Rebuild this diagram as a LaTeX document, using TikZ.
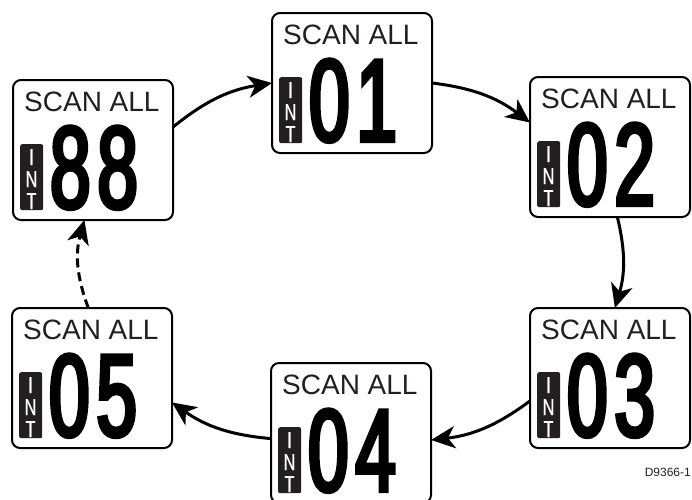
\documentclass[tikz,border=0pt]{standalone}
\usepackage{fontspec}
\setmainfont{Liberation Sans}
\newfontfamily\digitfont[FakeStretch=0.62,FakeBold=3.5]{Liberation Sans}
\newfontfamily\intfont[FakeStretch=0.72,FakeBold=0.5]{Liberation Sans}
\usetikzlibrary{arrows.meta,calc}
\definecolor{ink}{HTML}{231F20}
\tikzset{
 myhead/.tip={Stealth[length=24pt,width=22pt,inset=7pt]},
 screen/.style={draw=black, line width=2pt, rounded corners=8pt, minimum width=160pt, minimum height=140pt, anchor=north west, inner sep=0pt, outer sep=0pt, fill=white},
 scantext/.style={anchor=base west, inner sep=0pt, text=ink, font=\fontsize{28}{28}\selectfont},
 intbox/.style={fill=ink, rounded corners=2pt, minimum width=23pt, minimum height=66pt, anchor=north west, inner sep=0pt},
 intletter/.style={anchor=base, inner sep=0pt, text=white, font=\intfont\fontsize{23}{23}\selectfont},
 digits/.style={anchor=base, inner sep=0pt, text=black, font=\digitfont\fontsize{117}{117}\selectfont},
 arr/.style={line width=3pt, arrows={-myhead}},
}
\newcommand\lcdscreen[5]{%
 \node[screen] (#1) at (#2,#3) {};
 \node[scantext] (#1-t) at ([shift={(11,31)}]#1.north west) {SCAN ALL};
 \node[intbox] (#1-i) at ([shift={(7,64)}]#1.north west) {};
 \node[intletter] (#1-i1) at ([shift={(11.5,21)}]#1-i.north west) {I};
 \node[intletter] (#1-i2) at ([shift={(11.5,43)}]#1-i.north west) {N};
 \node[intletter] (#1-i3) at ([shift={(11.5,65)}]#1-i.north west) {T};
 \node[digits] (#1-d) at ([shift={(81,128)}]#1.north west) {#4\kern7pt#5};
}
\begin{document}
\begin{tikzpicture}[x=1pt,y=-1pt]
\useasboundingbox (0,0) rectangle (692,499);
\lcdscreen{b88}{13}{80}{8}{8}
\lcdscreen{b01}{272}{13}{0}{1}
\lcdscreen{b02}{530}{77}{0}{2}
\lcdscreen{b03}{530}{308}{0}{3}
\lcdscreen{b04}{271}{363}{0}{4}
\lcdscreen{b05}{12}{308}{0}{5}
\node[anchor=base east, inner sep=0pt, text=ink, font=\fontsize{12}{12}\selectfont] (lbl) at (691,476) {D9366-1};
\draw[arr] (b88.16) to[bend left=15] (b01.west);
\draw[arr] (b01.east) to[bend left=15] (b02.163);
\draw[arr] (b02.-84) to[bend left=15] (b03.86);
\draw[arr] (b03.196) to[bend left=15] (b04.-5);
\draw[arr] (b04.184) to[bend left=15] (b05.-17);
\draw[arr, dash pattern=on 9pt off 5pt] (b05.93) to[bend left=18] (b88.-97);
\end{tikzpicture}
\end{document}
